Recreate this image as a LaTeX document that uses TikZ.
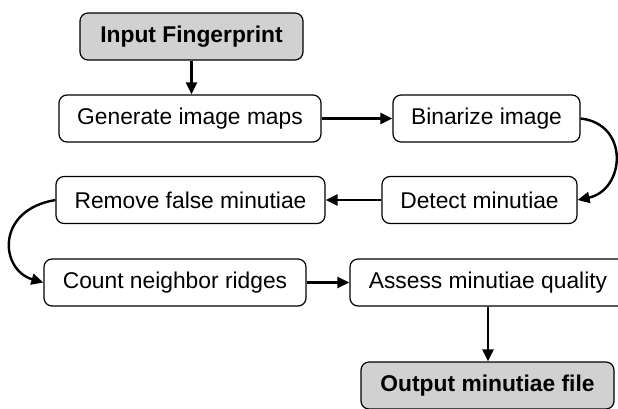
\documentclass[tikz,border=0pt]{standalone}
\usepackage{fontspec}
\setmainfont{Liberation Sans}
\usetikzlibrary{arrows.meta}
\begin{document}
\begin{tikzpicture}[x=1pt,y=-1pt,
  stepbox/.style={draw, rounded corners=8pt, line width=1.2pt, inner sep=0pt,
    minimum height=47pt, font=\fontsize{22.8}{27}\selectfont},
  termbox/.style={stepbox, fill=black!18, font=\fontsize{22.8}{27}\selectfont\bfseries},
  flow/.style={line width=2.4pt, -{Triangle[length=12pt,width=11pt]}}]
\useasboundingbox (0,0) rectangle (618,408);
% process boxes
\node[termbox, minimum width=223pt] (in)  at (191.5,36.5) {Input Fingerprint};
\node[stepbox, minimum width=262pt] (gen) at (190,118.5) {Generate image maps};
\node[stepbox, minimum width=187pt] (bin) at (486.5,118.5) {Binarize image};
\node[stepbox, minimum width=195pt] (det) at (479.5,200) {Detect minutiae};
\node[stepbox, minimum width=269pt] (rem) at (190.5,200) {Remove false minutiae};
\node[stepbox, minimum width=262pt] (cnt) at (175,282.5) {Count neighbor ridges};
\node[stepbox, minimum width=276pt] (ass) at (488,282.5) {Assess minutiae quality};
\node[termbox, minimum width=253pt] (out) at (487.5,385.5) {Output minutiae file};
% connectors
\draw[flow] (in.south) -- (in.south |- gen.north);
\draw[flow] (gen.east) -- (bin.west |- gen.east);
\draw[flow] (bin.east) .. controls (630,124) and (625,190) .. (det.east);
\draw[flow] (det.west) -- (rem.east |- det.west);
\draw[flow] (rem.west) .. controls (-5,210) and (0,270) .. (cnt.west);
\draw[flow] (cnt.east) -- (ass.west |- cnt.east);
\draw[flow] (ass.south) -- (ass.south |- out.north);
\end{tikzpicture}
\end{document}
